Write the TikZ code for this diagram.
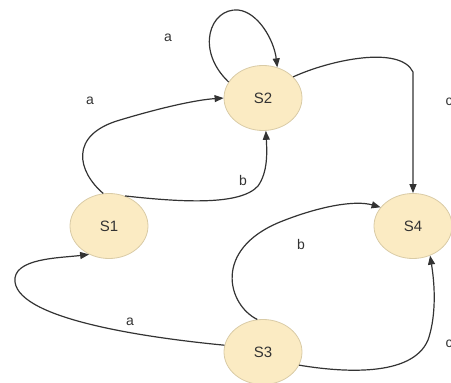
\documentclass[tikz,border=0pt]{standalone}
\usepackage{fontspec}
\setmainfont{Liberation Sans}
\usetikzlibrary{arrows.meta,shapes.geometric}
\definecolor{statefill}{HTML}{FBEBC3}
\definecolor{stateline}{HTML}{D9CBA6}
\definecolor{ink}{HTML}{333333}
\begin{document}
\begin{tikzpicture}[x=1pt,y=-1pt,
  state/.style={ellipse,draw=stateline,fill=statefill,line width=0.8pt,
    minimum width=78pt,minimum height=65pt,inner sep=0pt,
    text=ink,font=\fontsize{15}{17}\selectfont},
  trans/.style={draw=ink,line width=1.2pt,-{Triangle[length=9pt,width=7pt]}},
  lab/.style={text=ink,font=\fontsize{14}{16}\selectfont}]
\useasboundingbox (0,0) rectangle (451,383);
\node[state] (S2) at (263,98) {S2};
\node[state] (S1) at (109,226) {S1};
\node[state] (S4) at (413,226) {S4};
\node[state] (S3) at (263,352) {S3};
% self loop on S2
\draw[trans] (S2.155) .. controls (195,50) and (210,8) .. (238,10)
  .. controls (258,12) and (274,40) .. (S2.65);
% S1 to S2 on a
\draw[trans] (S1.100) .. controls (78,172) and (68,135) .. (120,120)
  .. controls (160,108) and (195,100) .. (S2.180);
% S1 to S2 on b
\draw[trans] (S1.62) .. controls (180,202) and (240,206) .. (258,186)
  .. controls (268,172) and (267,152) .. (S2.-85);
% S2 to S4
\draw[trans] (S2.35) .. controls (330,60) and (400,45) .. (413,72) -- (S4.north);
% S3 to S4 on b
\draw[trans] (S3.100) .. controls (228,305) and (212,250) .. (280,222)
  .. controls (320,206) and (355,200) .. (S4.150);
% S3 to S1 on a
\draw[trans] (S3.170) .. controls (150,338) and (20,320) .. (15,282)
  .. controls (12,258) and (60,258) .. (S1.235);
% S3 to S4 on c
\draw[trans] (S3.-20) .. controls (340,372) and (412,378) .. (428,340)
  .. controls (435,320) and (436,292) .. (S4.-60);
% transition labels
\node[lab] (la1) at (168,38) {a};
\node[lab] (la2) at (90,101) {a};
\node[lab] (lb1) at (243,180) {b};
\node[lab] (lb2) at (301,244) {b};
\node[lab] (la3) at (130,322) {a};
\node[lab] (lc1) at (449,102) {c};
\node[lab] (lc2) at (449,344) {c};
\end{tikzpicture}
\end{document}
